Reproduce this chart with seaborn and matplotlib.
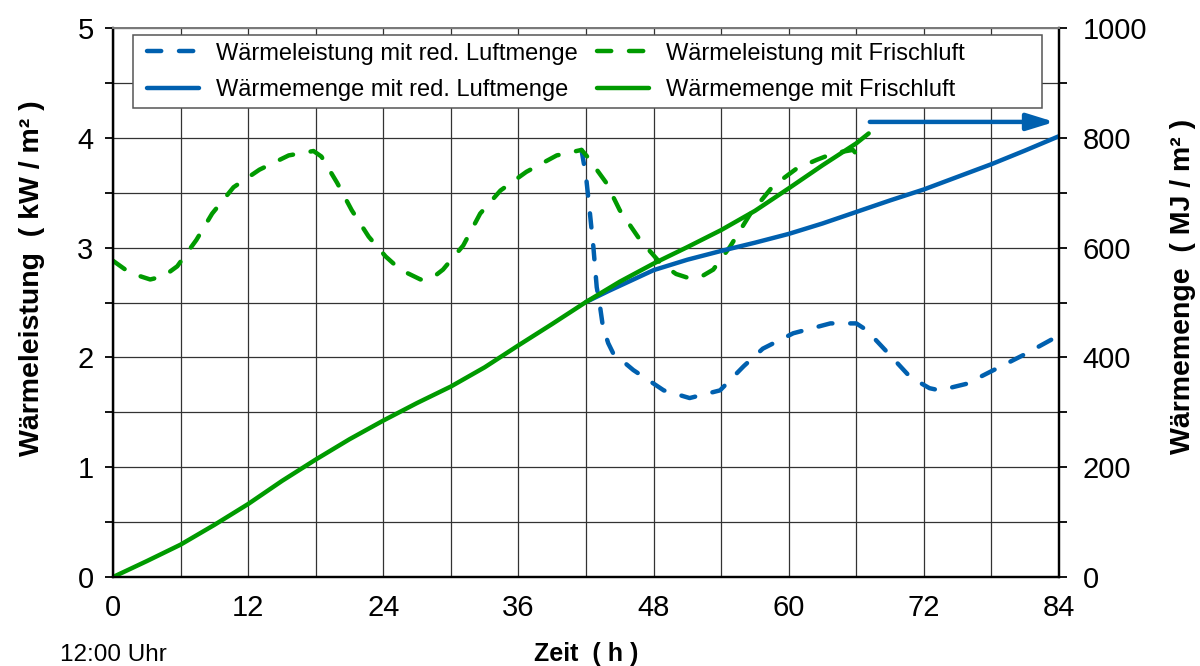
import matplotlib
matplotlib.use("Agg")
import matplotlib.pyplot as plt
from matplotlib.patches import Rectangle
from matplotlib.ticker import MultipleLocator
import pandas as pd
import seaborn as sns

# Wärmeleistung (kW/m²) mit Frischluft
zeit_leistung_frisch = [0, 1.5, 3.3, 4.5, 5.7, 7.4, 8.8, 10.7, 13.0, 15.6, 17.8, 18.5,
                        19.9, 21.2, 22.7, 24.2, 25.5, 27.3, 28.3, 29.3, 31.1, 32.6, 34.4,
                        36.7, 39.4, 41.6, 42.1, 43.8, 45.0, 46.8, 48.6, 50.0, 51.2, 52.3,
                        53.3, 54.8, 56.6, 58.6, 60.7, 62.5, 64.0, 65.7, 66.7]
leistung_frisch = [2.88, 2.77, 2.71, 2.74, 2.83, 3.07, 3.31, 3.55, 3.71, 3.84, 3.88, 3.83,
                   3.59, 3.34, 3.10, 2.92, 2.80, 2.71, 2.72, 2.80, 3.02, 3.31, 3.52,
                   3.69, 3.84, 3.89, 3.83, 3.59, 3.34, 3.07, 2.86, 2.76, 2.72, 2.74,
                   2.80, 3.01, 3.31, 3.56, 3.72, 3.80, 3.86, 3.89, 3.77]

# Wärmeleistung (kW/m²) mit reduzierter Luftmenge
zeit_leistung_red = [41.6, 42.0, 42.35, 42.65, 42.95, 43.25, 43.5, 43.97, 44.4, 46.2, 48.9,
                     51.2, 53.9, 56.0, 57.7, 60.4, 63.7, 66.0, 66.9, 69.0, 70.8, 72.5,
                     73.4, 75.8, 78.2, 80.8, 84.0]
leistung_red = [3.89, 3.65, 3.31, 3.01, 2.64, 2.46, 2.28, 2.13, 2.04, 1.885, 1.70,
                1.63, 1.70, 1.92, 2.08, 2.22, 2.31, 2.31, 2.25, 2.02, 1.82, 1.72,
                1.70, 1.76, 1.885, 2.02, 2.20]

# Wärmemenge (MJ/m²) mit Frischluft
zeit_menge_frisch = [0, 3, 6, 9, 12, 15, 18, 21, 24, 27, 30, 33, 36, 39, 42, 45, 48, 51,
                     54, 57, 60, 63, 66, 67.1]
menge_frisch = [0, 29, 59, 95, 133, 175, 214, 251, 285, 317, 347, 382, 422, 461, 501, 538,
                571, 601, 632, 667, 708, 750, 790, 808]

# Wärmemenge (MJ/m²) mit reduzierter Luftmenge
zeit_menge_red = [42, 44, 46, 48, 51, 54, 57, 60, 63, 66, 69, 72, 75, 78, 81, 84]
menge_red = [501, 521, 540, 559, 578, 594, 609, 625, 644, 665, 686, 706, 729, 752, 777, 803]

# Pfeil zur rechten Achse
pfeil_start = (67.2, 829)
pfeil_ende = (83.6, 829)

x_ticks = [0, 12, 24, 36, 48, 60, 72, 84]

BLAU = "#0060AF"
GRUEN = "#009A00"
DASH = (0, (3.2, 4.0))

sns.set_theme(style="white")
plt.rcParams["font.family"] = ["Liberation Sans", "DejaVu Sans"]

fig = plt.figure(figsize=(12, 6.66), dpi=100)
ax = fig.add_axes([0.0942, 0.1336, 0.7883, 0.8243])
ax2 = ax.twinx()

df_lf = pd.DataFrame({"t": zeit_leistung_frisch, "q": leistung_frisch})
df_lr = pd.DataFrame({"t": zeit_leistung_red, "q": leistung_red})
df_mf = pd.DataFrame({"t": zeit_menge_frisch, "Q": menge_frisch})
df_mr = pd.DataFrame({"t": zeit_menge_red, "Q": menge_red})

sns.lineplot(data=df_lr, x="t", y="q", ax=ax, color=BLAU, lw=3.2, linestyle=DASH,
             dash_capstyle="round", legend=False, label="Wärmeleistung mit red. Luftmenge")
sns.lineplot(data=df_lf, x="t", y="q", ax=ax, color=GRUEN, lw=3.2, linestyle=DASH,
             dash_capstyle="round", legend=False, label="Wärmeleistung mit Frischluft")
sns.lineplot(data=df_mr, x="t", y="Q", ax=ax2, color=BLAU, lw=3.2, legend=False,
             label="Wärmemenge mit red. Luftmenge")
sns.lineplot(data=df_mf, x="t", y="Q", ax=ax2, color=GRUEN, lw=3.2, legend=False,
             label="Wärmemenge mit Frischluft")

ax2.annotate("", xy=pfeil_ende, xytext=pfeil_start,
             arrowprops=dict(arrowstyle="-|>,head_length=0.55,head_width=0.17",
                             color=BLAU, lw=3.2, mutation_scale=30,
                             shrinkA=0, shrinkB=0))

# Achsen
ax.set_xlim(0, 84)
ax.set_ylim(0, 5)
ax2.set_ylim(0, 1000)
ax.set_xticks(x_ticks)
ax.xaxis.set_minor_locator(MultipleLocator(6))
ax.yaxis.set_major_locator(MultipleLocator(1))
ax.yaxis.set_minor_locator(MultipleLocator(0.5))
ax2.yaxis.set_major_locator(MultipleLocator(200))
ax2.yaxis.set_minor_locator(MultipleLocator(100))

ax.grid(True, which="both", color="#333333", lw=0.9)
ax2.grid(False)
ax.set_axisbelow(True)

for a in (ax, ax2):
    a.tick_params(which="both", direction="out", length=6, width=1.3, color="black",
                  labelsize=21, labelcolor="black")
ax.tick_params(axis="x", pad=6)
ax.tick_params(axis="y", pad=8)
ax2.tick_params(axis="y", pad=11)

for a in (ax, ax2):
    for s in ("left", "bottom", "right"):
        a.spines[s].set_color("black")
        a.spines[s].set_linewidth(1.6)
    a.spines["top"].set_color("#7a7a7a")
    a.spines["top"].set_linewidth(1.4)

ax.set_xlabel("Zeit  ( h )", fontsize=18, fontweight="bold", color="black")
ax.xaxis.set_label_coords(0.5, -0.118)
ax.set_ylabel("Wärmeleistung  ( kW / m² )", fontsize=20.5, fontweight="bold", color="black")
ax.yaxis.set_label_coords(-0.072, 0.545)
ax2.set_ylabel("Wärmemenge  ( MJ / m² )", fontsize=20.5, fontweight="bold", color="black")
ax2.yaxis.set_label_coords(1.117, 0.53)

ax.text(-0.056, -0.142, "12:00 Uhr", transform=ax.transAxes, fontsize=17.5,
        ha="left", va="center", color="black")

# Legende mit eigenem Rahmen
rahmen = Rectangle((0.0211, 0.854), 0.961, 0.133, transform=ax2.transAxes,
                   facecolor="white", edgecolor="#555555", lw=1.1, zorder=4)
ax2.add_patch(rahmen)
h1, l1 = ax.get_legend_handles_labels()
h2, l2 = ax2.get_legend_handles_labels()
handles = [h1[0], h2[0], h1[1], h2[1]]
labels = [l1[0], l2[0], l1[1], l2[1]]
leg = ax2.legend(handles, labels, ncol=2, loc="upper left",
                 bbox_to_anchor=(0.031, 0.982), frameon=False, fontsize=17,
                 handlelength=2.2, handletextpad=0.7, columnspacing=0.85,
                 labelspacing=0.62, borderpad=0.2, borderaxespad=0)
leg.set_zorder(5)
for t in leg.get_texts():
    t.set_color("black")

fig.savefig("out.png", dpi=100)
